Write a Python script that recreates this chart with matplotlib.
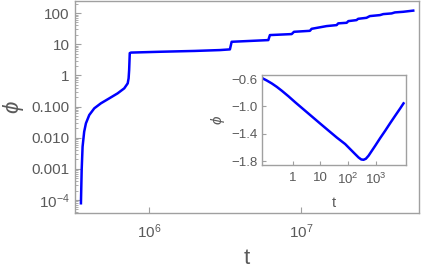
import matplotlib
matplotlib.use("Agg")
import matplotlib.pyplot as plt
from matplotlib.ticker import FixedLocator, FixedFormatter, NullLocator, LogLocator, NullFormatter

plt.rcParams['font.family'] = ['Liberation Sans', 'DejaVu Sans']
plt.rcParams['mathtext.fontset'] = 'custom'
plt.rcParams['mathtext.rm'] = 'Liberation Sans'
plt.rcParams['mathtext.it'] = 'Liberation Sans:italic'

# Main curve
t_main = [3.57e5, 3.61e5, 3.66e5, 3.75e5, 3.85e5, 4.05e5, 4.37e5, 4.83e5, 5.48e5, 6.22e5,
          6.88e5, 7.25e5, 7.35e5, 7.41e5, 7.48e5, 7.62e5, 1.2e6, 2.0e6, 2.93e6, 3.41e6,
          3.50e6, 6.10e6, 6.25e6, 8.69e6, 9.0e6, 1.146e7, 1.175e7, 1.476e7, 1.718e7,
          1.758e7, 2.0e7, 2.05e7, 2.32e7, 2.38e7, 2.70e7, 2.84e7, 3.31e7, 3.48e7,
          3.95e7, 4.15e7, 4.71e7, 5.48e7]
phi_main = [7.85e-5, 9.18e-4, 5.14e-3, 0.0156, 0.0289, 0.0535, 0.0877, 0.127, 0.183, 0.265,
            0.384, 0.556, 0.804, 1.48, 5.2, 5.4, 5.75, 6.1, 6.50, 6.84,
            12.0, 13.6, 19.7, 21.2, 25.1, 27.0, 31.3, 38.3, 41.2,
            46.8, 48.9, 55.3, 59.6, 65.6, 70.6, 80.2, 86.3, 92.9,
            97.7, 105.2, 110.2, 120.2]

# Inset curve
t_inset = [0.08, 0.0895, 0.118, 0.179, 0.271, 0.411, 0.714, 1.245, 2.49, 4.98, 9.95,
           19.9, 39.7, 79.4, 120.5, 182, 241, 301, 365, 443, 553, 729, 962, 1459,
           2208, 3350, 5070, 7690, 10140]
phi_inset = [-0.585, -0.597, -0.622, -0.665, -0.715, -0.772, -0.853, -0.940, -1.044,
             -1.148, -1.252, -1.355, -1.457, -1.552, -1.626, -1.699, -1.748, -1.777,
             -1.782, -1.767, -1.723, -1.650, -1.577, -1.464, -1.357, -1.245, -1.137,
             -1.030, -0.956]

main_yticks = [100, 10, 1, 0.1, 0.01, 0.001, 1e-4]
main_ylabels = ["100", "10", "1", "0.100", "0.010", "0.001", r"$10^{-4}$"]
main_xticks = [1e6, 1e7]
main_xlabels = [r"$10^{6}$", r"$10^{7}$"]
inset_xticks = [1, 10, 100, 1000]
inset_xlabels = ["1", "10", r"$10^{2}$", r"$10^{3}$"]
inset_yticks = [-0.6, -1.0, -1.4, -1.8]
inset_ylabels = ["\u22120.6", "\u22121.0", "\u22121.4", "\u22121.8"]

frame_c = '#a0a0a0'
text_c = '#5a5a5a'
blue = '#0000ff'

fig = plt.figure(figsize=(4.21, 2.72), dpi=100)
ax = fig.add_axes([0.178, 0.217, 0.817, 0.78])
ax.plot(t_main, phi_main, color=blue, lw=1.8, solid_joinstyle='round')
ax.set_xscale('log')
ax.set_yscale('log')
ax.set_xlim(3.26e5, 5.97e7)
ax.set_ylim(3.83e-5, 248)
ax.xaxis.set_major_locator(FixedLocator(main_xticks))
ax.xaxis.set_major_formatter(FixedFormatter(main_xlabels))
ax.xaxis.set_minor_locator(NullLocator())
ax.yaxis.set_major_locator(FixedLocator(main_yticks))
ax.yaxis.set_major_formatter(FixedFormatter(main_ylabels))
ax.yaxis.set_minor_locator(LogLocator(base=10, subs=range(2, 10), numticks=20))
ax.yaxis.set_minor_formatter(NullFormatter())
for s in ax.spines.values():
    s.set_color(frame_c)
    s.set_linewidth(1.0)
ax.tick_params(axis='both', which='major', direction='in', length=4, width=0.8,
               color=frame_c, labelcolor=text_c, labelsize=11)
ax.tick_params(axis='x', which='major', pad=7)
ax.tick_params(axis='y', which='major', pad=4)
ax.tick_params(axis='both', which='minor', direction='in', length=2, width=0.6,
               color=frame_c)
ax.tick_params(top=False, right=False, which='both')
ax.set_xlabel('t', fontsize=16, color=text_c, labelpad=5)
ax.set_ylabel(r'$\phi$', fontsize=16, color=text_c, labelpad=4)

ins = fig.add_axes([0.622, 0.393, 0.342, 0.333])
ins.plot(t_inset, phi_inset, color=blue, lw=1.8, solid_joinstyle='round')
ins.set_xscale('log')
ins.set_xlim(0.078, 12300)
ins.set_ylim(-1.86, -0.534)
ins.xaxis.set_major_locator(FixedLocator(inset_xticks))
ins.xaxis.set_major_formatter(FixedFormatter(inset_xlabels))
ins.xaxis.set_minor_locator(NullLocator())
ins.yaxis.set_major_locator(FixedLocator(inset_yticks))
ins.yaxis.set_major_formatter(FixedFormatter(inset_ylabels))
for s in ins.spines.values():
    s.set_color(frame_c)
    s.set_linewidth(1.0)
ins.tick_params(axis='both', which='major', direction='in', length=3, width=0.8,
                color=frame_c, labelcolor=text_c, labelsize=9.5)
ins.tick_params(axis='x', which='major', pad=5)
ins.tick_params(axis='y', which='major', pad=3)
ins.set_xlabel('t', fontsize=10.5, color=text_c, labelpad=6)
ins.set_ylabel(r'$\phi$', fontsize=11, color=text_c, labelpad=3)

fig.savefig('out.png', dpi=100)
